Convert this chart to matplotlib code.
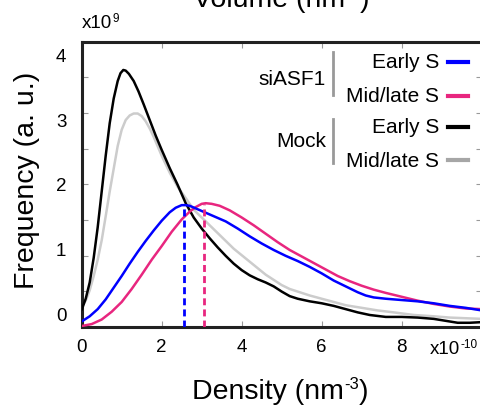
import numpy as np
import matplotlib
matplotlib.use("Agg")
import matplotlib.pyplot as plt

plt.rcParams['font.family'] = ['Liberation Sans', 'DejaVu Sans']
plt.rcParams['mathtext.default'] = 'regular'

W, H = 481, 407

# ---- data (density in 1e-10 nm^-3, frequency in 1e9 a.u.) ----
mock_early_x = [0, 0.1, 0.2, 0.3, 0.4, 0.5, 0.6, 0.7, 0.8, 0.9, 0.97, 1.04, 1.1, 1.18, 1.3, 1.42,
                1.55, 1.7, 1.85, 2.0, 2.2, 2.4, 2.6, 2.8, 3.0, 3.2, 3.4, 3.6, 3.8, 4.0, 4.2, 4.4,
                4.6, 4.8, 5.0, 5.2, 5.4, 5.7, 6.0, 6.3, 6.6, 6.9, 7.2, 7.6, 8.0, 8.4, 8.8, 9.1,
                9.4, 9.7, 10.0]
mock_early_y = [0.08, 0.25, 0.5, 0.88, 1.35, 1.9, 2.45, 2.95, 3.33, 3.6, 3.72, 3.77, 3.76, 3.71, 3.6, 3.44,
                3.24, 3.0, 2.76, 2.54, 2.26, 2.0, 1.72, 1.5, 1.33, 1.18, 1.04, 0.91, 0.79, 0.69, 0.61, 0.55,
                0.5, 0.44, 0.36, 0.29, 0.25, 0.21, 0.18, 0.14, 0.09, 0.04, 0.0, -0.03, -0.03, -0.04, -0.06, -0.09,
                -0.12, -0.12, -0.11]

mock_mid_x = [0, 0.1, 0.2, 0.3, 0.4, 0.5, 0.6, 0.7, 0.8, 0.9, 1.0, 1.1, 1.2, 1.3, 1.4, 1.5, 1.6,
              1.7, 1.8, 2.0, 2.2, 2.4, 2.6, 2.8, 3.0, 3.2, 3.4, 3.6, 3.8, 4.0, 4.2, 4.4, 4.6, 4.8,
              5.0, 5.2, 5.4, 5.7, 6.0, 6.3, 6.6, 7.0, 7.4, 7.8, 8.3, 8.8, 9.2, 9.6, 10.0]
mock_mid_y = [0.13, 0.22, 0.38, 0.6, 0.85, 1.15, 1.52, 1.9, 2.25, 2.6, 2.85, 3.0, 3.07, 3.1, 3.1, 3.06, 2.98,
              2.87, 2.74, 2.45, 2.19, 1.97, 1.8, 1.62, 1.5, 1.38, 1.26, 1.14, 1.02, 0.92, 0.82, 0.72, 0.62, 0.54,
              0.46, 0.4, 0.36, 0.3, 0.25, 0.2, 0.15, 0.11, 0.07, 0.04, 0.0, -0.02, -0.04, -0.05, -0.06]

si_early_x = [0, 0.2, 0.4, 0.6, 0.8, 1.0, 1.2, 1.4, 1.6, 1.8, 2.0, 2.2, 2.35, 2.5, 2.6, 2.7,
              2.85, 3.0, 3.3, 3.6, 3.9, 4.2, 4.5, 4.8, 5.1, 5.4, 5.7, 6.0, 6.3, 6.6, 6.9, 7.1,
              7.3, 7.6, 8.0, 8.4, 8.8, 9.2, 9.6, 10.0]
si_early_y = [-0.1, -0.02, 0.09, 0.24, 0.42, 0.6, 0.79, 0.97, 1.14, 1.3, 1.45, 1.58, 1.65, 1.69, 1.69, 1.68,
              1.64, 1.6, 1.52, 1.44, 1.33, 1.21, 1.1, 1.0, 0.91, 0.83, 0.74, 0.64, 0.53, 0.44, 0.35, 0.3,
              0.27, 0.25, 0.23, 0.21, 0.18, 0.14, 0.11, 0.07]

si_mid_x = [0, 0.25, 0.5, 0.75, 1.0, 1.25, 1.5, 1.75, 2.0, 2.25, 2.5, 2.7, 2.85, 3.0, 3.1, 3.25,
            3.45, 3.7, 4.0, 4.3, 4.6, 4.9, 5.2, 5.5, 5.8, 6.1, 6.4, 6.7, 7.0, 7.3, 7.6, 8.0,
            8.4, 8.8, 9.2, 9.6, 10.0]
si_mid_y = [-0.17, -0.14, -0.07, 0.05, 0.2, 0.4, 0.62, 0.85, 1.06, 1.28, 1.47, 1.59, 1.66, 1.71, 1.72, 1.71,
            1.68, 1.61, 1.5, 1.38, 1.25, 1.12, 1.0, 0.9, 0.8, 0.7, 0.6, 0.52, 0.45, 0.39, 0.34, 0.28,
            0.22, 0.17, 0.13, 0.1, 0.09]

peak_x = [2.56, 3.06]
peak_y = [1.69, 1.71]

x_ticks = [0, 2, 4, 6, 8]
y_ticks = [0, 1, 2, 3, 4]

BLUE = '#0000ff'
PINK = '#e8267f'
BLACK = '#000000'
GREY = '#cccccc'
GREY_LEG = '#a6a6a6'

fig = plt.figure(figsize=(W / 100, H / 100), dpi=100)
renderer = fig.canvas.get_renderer()

def fx(px):
    return px / W

def fy(py):
    return 1 - py / H

def pieces_text(x_px, base_px, parts, ha='center'):
    """parts: list of (string, fontsize, raise_px). Placed side by side on a baseline."""
    texts, widths = [], []
    for s, fs, r in parts:
        t = fig.text(0, 0, s, fontsize=fs, ha='left', va='baseline')
        widths.append(t.get_window_extent(renderer).width)
        texts.append(t)
    total = sum(widths)
    x0 = x_px - total / 2 if ha == 'center' else x_px
    for t, w, (s, fs, r) in zip(texts, widths, parts):
        t.set_position((fx(x0), fy(base_px - r)))
        x0 += w

ax_left, ax_right, ax_top, ax_bot = 81.7, 481.7, 41.5, 327.0
ax = fig.add_axes([fx(ax_left), fy(ax_bot), (ax_right - ax_left) / W, (ax_bot - ax_top) / H])

ylo, yhi = -0.185, 4.208
ax.set_xlim(0, 10)
ax.set_ylim(ylo, yhi)

lw = 1.8
kw = dict(lw=lw, solid_joinstyle='round', solid_capstyle='round')
ax.plot(mock_mid_x, mock_mid_y, color=GREY, zorder=2, **kw)
ax.plot(mock_early_x, mock_early_y, color=BLACK, zorder=3, **kw)
ax.plot(si_mid_x, si_mid_y, color=PINK, zorder=4, **kw)
ax.plot(si_early_x, si_early_y, color=BLUE, zorder=5, **kw)

for xv, yv, c in zip(peak_x, peak_y, [BLUE, PINK]):
    ax.vlines(xv, ylo, yv, colors=c, linestyles=(0, (2.5, 1.5)), lw=2.0, zorder=6)

for s in ['left', 'bottom', 'top']:
    ax.spines[s].set_linewidth(2.2)
    ax.spines[s].set_color('#222222')
ax.spines['right'].set_visible(False)

ax.set_xticks(x_ticks)
ax.set_xticklabels([str(v) for v in x_ticks])
ax.set_yticks(y_ticks)
ax.set_yticklabels([str(v) for v in y_ticks])
ax.tick_params(axis='x', which='major', direction='in', length=4, width=0.8, color='#999999',
               top=True, labelsize=13.5, pad=9)
ax.tick_params(axis='y', which='major', length=0, labelsize=13.5, pad=11)
ax.set_yticks(list(np.linspace(ylo, yhi, 9)[1:-1]), minor=True)
ax.tick_params(axis='y', which='minor', direction='in', length=4, width=0.8, color='#999999',
               left=True, right=True)

# axis labels, title and exponents
fig.text(fx(27), fy(180), 'Frequency (a. u.)', rotation=90, ha='center', va='center', fontsize=20.5)
pieces_text(280, 399, [('Density (nm', 20.5, 0), ('-3', 12, 10), (')', 20.5, 0)])
pieces_text(281, 7, [('Volume (nm', 20.5, 0), ('-3', 12, 10), (')', 20.5, 0)])
pieces_text(82, 28, [('x10', 13.5, 0), ('9', 8.5, 6)], ha='left')
pieces_text(430, 354, [('x10', 13.5, 0), ('-10', 8.5, 6)], ha='left')

# custom grouped legend
groups = ['siASF1', 'Mock']
group_base = [85, 146.7]
bars = [(52, 95), (119, 163)]
series_labels = ['Early S', 'Mid/late S', 'Early S', 'Mid/late S']
series_base = [68.3, 101.7, 132.7, 166.7]
series_line_y = [62.3, 95.7, 126.7, 160.0]
series_colors = [BLUE, PINK, BLACK, GREY_LEG]

for g, b in zip(groups, group_base):
    fig.text(fx(326), fy(b), g, ha='right', va='baseline', fontsize=15)
for (y0, y1) in bars:
    fig.add_artist(plt.Line2D([fx(333), fx(333)], [fy(y0), fy(y1)], color='#999999', lw=2.0))
for lab, b, ly, c in zip(series_labels, series_base, series_line_y, series_colors):
    fig.text(fx(439), fy(b), lab, ha='right', va='baseline', fontsize=15)
    fig.add_artist(plt.Line2D([fx(448), fx(468)], [fy(ly), fy(ly)], color=c, lw=3.0))

fig.savefig('out.png', dpi=100)
